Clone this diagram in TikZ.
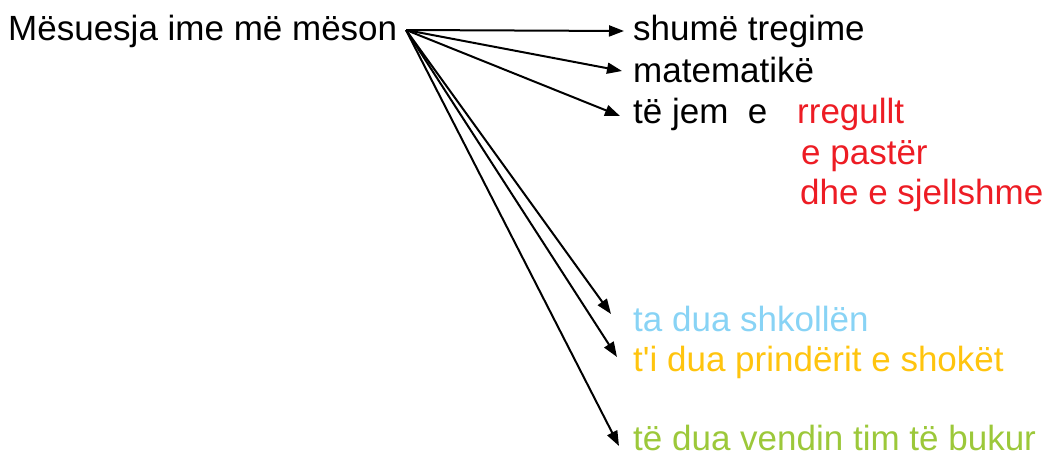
\documentclass[tikz,border=0pt]{standalone}
\usepackage{fontspec}
\setmainfont{Liberation Sans}
\usetikzlibrary{arrows.meta}
\definecolor{cblue}{HTML}{88D3F5}
\definecolor{corange}{HTML}{FFC40E}
\definecolor{cgreen}{HTML}{9CC83A}
\definecolor{cred}{HTML}{ED1C24}
\begin{document}
\begin{tikzpicture}[x=1pt,y=-1pt,
  lbl/.style={anchor=base west,inner sep=0pt,font=\fontsize{35}{41}\selectfont},
  arr/.style={line width=2pt,-{Triangle[length=15pt,width=11pt]}}]
\useasboundingbox (0,0) rectangle (1047,461);
\node[lbl] (src) at (8,40) {Mësuesja ime më mëson};
\coordinate (o) at (406,30);
\node[lbl] (a) at (633,40) {shumë tregime};
\node[lbl] (b) at (633,82) {matematikë};
\node[lbl] (c) at (633,123) {të jem\ \ e};
\node[lbl,text=cred] (c1) at (797,123) {rregullt};
\node[lbl,text=cred] (c2) at (801,164) {e pastër};
\node[lbl,text=cred] (c3) at (800,204) {dhe e sjellshme};
\node[lbl,text=cblue] (d) at (633,331) {ta dua shkollën};
\node[lbl,text=corange] (e) at (633,371) {t\textquotesingle i dua prindërit e shokët};
\node[lbl,text=cgreen] (f) at (633,450) {të dua vendin tim të bukur};
\coordinate (ta) at (624,31);
\coordinate (tb) at (622,71);
\coordinate (tc) at (620,116);
\coordinate (td) at (611,314);
\coordinate (te) at (617,357);
\coordinate (tf) at (619,446);
\foreach \t in {ta,tb,tc,td,te,tf} \draw[arr] (o) -- (\t);
\end{tikzpicture}
\end{document}
